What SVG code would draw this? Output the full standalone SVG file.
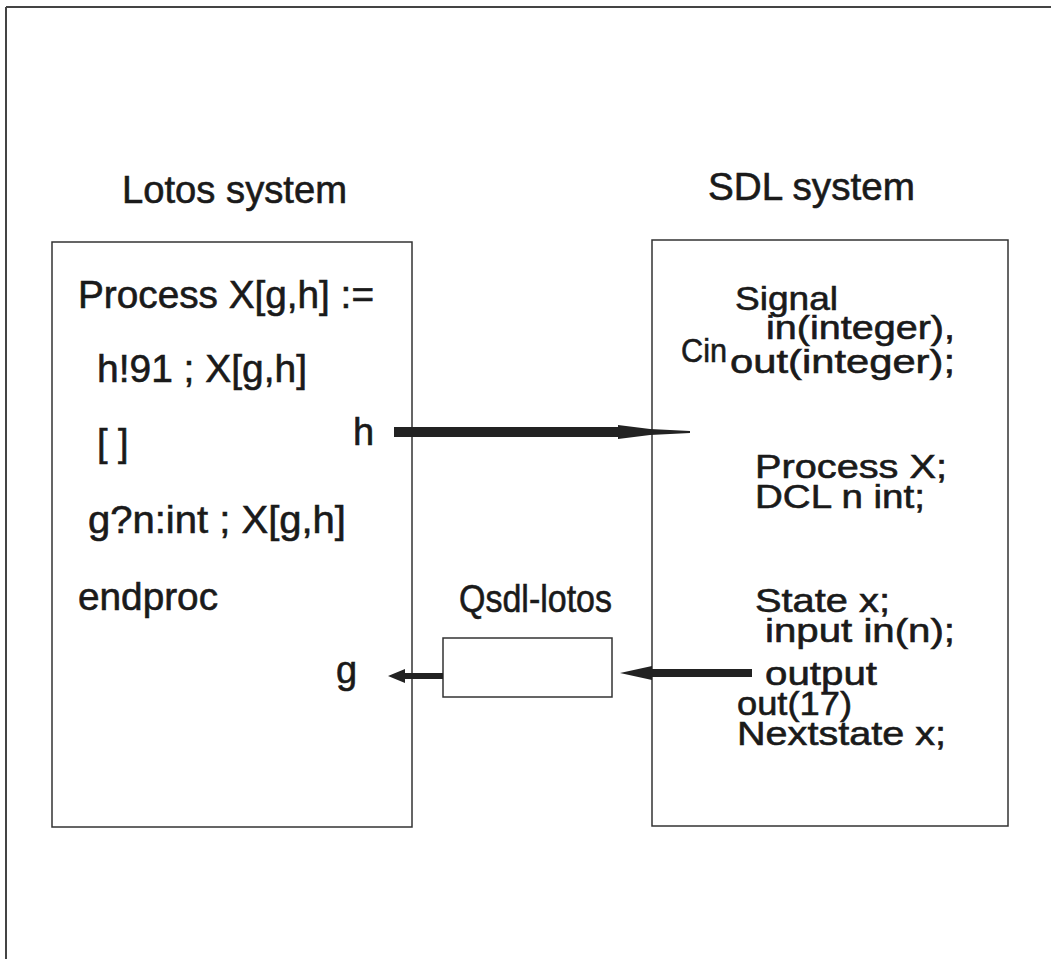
<svg xmlns="http://www.w3.org/2000/svg" width="1051" height="959" viewBox="0 0 1051 959">
<style>
.t{font-family:"Liberation Sans",Arial,sans-serif;font-size:38px;fill:#1a1a1a;stroke:#1a1a1a;stroke-width:0.6}
.s{font-size:34px}
.box{fill:none;stroke:#333;stroke-width:1.5}
.arr{fill:#222}
</style>
<rect width="1051" height="959" fill="#ffffff"/>
<g id="frame">
<line x1="6" y1="7" x2="1051" y2="7" stroke="#444" stroke-width="2"/>
<line x1="6" y1="7" x2="6" y2="959" stroke="#444" stroke-width="2"/>
</g>
<g id="title-lotos"><text class="t" x="122" y="203" textLength="225" lengthAdjust="spacingAndGlyphs">Lotos system</text></g>
<g id="title-sdl"><text class="t" x="708" y="200" textLength="207" lengthAdjust="spacingAndGlyphs">SDL system</text></g>
<g id="lotos">
<rect class="box" x="52" y="242" width="360" height="585"/>
<text class="t" x="78" y="308" textLength="296" lengthAdjust="spacingAndGlyphs">Process X[g,h] :=</text>
<text class="t" x="97" y="382" textLength="210" lengthAdjust="spacingAndGlyphs">h!91 ; X[g,h]</text>
<text class="t" x="97" y="456">[ ]</text>
<text class="t" x="88" y="533" textLength="258" lengthAdjust="spacingAndGlyphs">g?n:int ; X[g,h]</text>
<text class="t" x="78" y="610" textLength="140" lengthAdjust="spacingAndGlyphs">endproc</text>
<text class="t" x="353" y="445">h</text>
<text class="t" x="336" y="683">g</text>
</g>
<g id="sdl">
<rect class="box" x="652" y="240" width="356" height="586"/>
<text class="t s" x="735" y="310" textLength="103" lengthAdjust="spacingAndGlyphs">Signal</text>
<text class="t s" x="766" y="339" textLength="189" lengthAdjust="spacingAndGlyphs">in(integer),</text>
<text class="t s" x="681" y="362" textLength="46" lengthAdjust="spacingAndGlyphs">Cin</text>
<text class="t s" x="730" y="373" textLength="225" lengthAdjust="spacingAndGlyphs">out(integer);</text>
<text class="t s" x="755" y="478" textLength="192" lengthAdjust="spacingAndGlyphs">Process X;</text>
<text class="t s" x="755" y="508" textLength="170" lengthAdjust="spacingAndGlyphs">DCL n int;</text>
<text class="t s" x="755" y="612" textLength="135" lengthAdjust="spacingAndGlyphs">State x;</text>
<text class="t s" x="765" y="642" textLength="190" lengthAdjust="spacingAndGlyphs">input in(n);</text>
<text class="t s" x="765" y="685" textLength="112" lengthAdjust="spacingAndGlyphs">output</text>
<text class="t s" x="737" y="715" textLength="115" lengthAdjust="spacingAndGlyphs">out(17)</text>
<text class="t s" x="737" y="745" textLength="209" lengthAdjust="spacingAndGlyphs">Nextstate x;</text>
</g>
<g id="qsdl">
<text class="t" x="459" y="612" textLength="153" lengthAdjust="spacingAndGlyphs">Qsdl-lotos</text>
<rect class="box" x="443" y="638" width="169" height="59"/>
</g>
<g id="connectors">
<polygon class="arr" points="394,427 618,427 618,425 650,429 690,431 690,433 650,435 618,439 618,437 394,437"/>
<polygon class="arr" points="752,669 652,669 652,666 620,673 652,680 652,677 752,677"/>
<polygon class="arr" points="443,673 405,673 405,669 388,676 405,683 405,679 443,679"/>
</g>
</svg>
